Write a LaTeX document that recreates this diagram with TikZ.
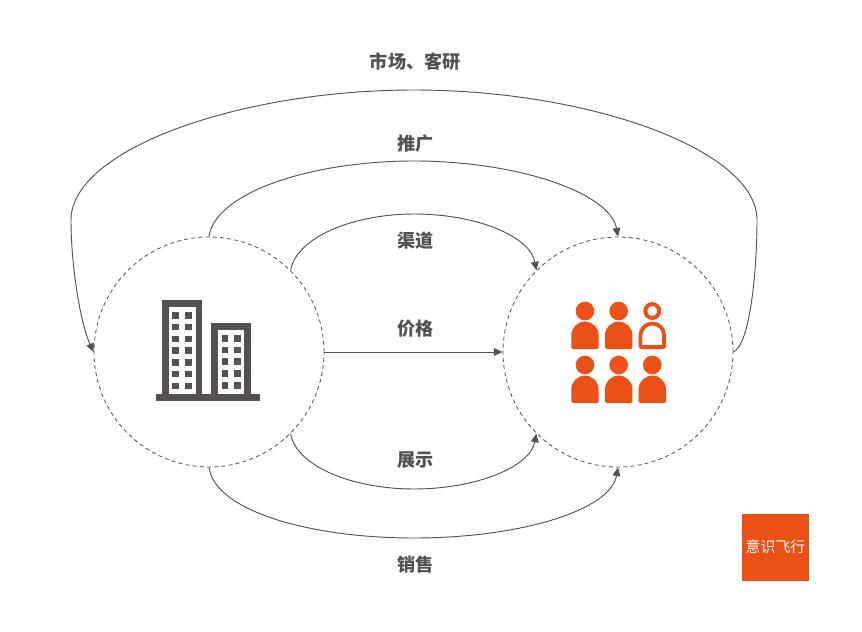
\documentclass[tikz,border=0pt]{standalone}
\usepackage{fontspec}
\setmainfont{Noto Sans CJK SC}
\usetikzlibrary{arrows.meta}
\definecolor{ink}{HTML}{555152}
\definecolor{brand}{HTML}{EB5017}
\tikzset{
  x=0.75pt,y=-0.75pt,
  ring/.style={circle,draw=ink,dashed,dash pattern=on 3pt off 2.4pt,line width=0.6pt,minimum size=172.5pt,inner sep=0pt},
  link/.style={draw=ink,line width=0.7pt,-{Triangle[length=6.5pt,width=5.8pt]}},
  plain/.style={draw=ink,line width=0.7pt},
  tag/.style={font=\fontsize{13.6pt}{16pt}\selectfont\bfseries,text=ink,inner sep=0pt},
  solidman/.pic={
    \fill[brand] (0,-38) circle[radius=7pt];
    \fill[brand] (-13.7,-1.5) -- (-13.7,-13.7) .. controls (-13.7,-21.3) and (-7.6,-27.4) .. (0,-27.4)
      .. controls (7.6,-27.4) and (13.7,-21.3) .. (13.7,-13.7) -- (13.7,-1.5)
      .. controls (13.7,-0.5) and (13.2,0) .. (12.2,0) -- (-12.2,0) .. controls (-13.2,0) and (-13.7,-0.5) .. (-13.7,-1.5) -- cycle;
  },
  hollowman/.pic={
    \draw[brand,line width=3pt] (0,-38) circle[radius=5.2pt];
    \draw[brand,line width=2.9pt,line join=round] (-11.8,-1.9) -- (-11.8,-13.7) .. controls (-11.8,-20.2) and (-6.5,-25.5) .. (0,-25.5)
      .. controls (6.5,-25.5) and (11.8,-20.2) .. (11.8,-13.7) -- (11.8,-1.9) -- cycle;
  }
}
\begin{document}
\begin{tikzpicture}
\useasboundingbox (0,0) rectangle (862,631);
\fill[white] (0,0) rectangle (862,631);

\node[ring] (L) at (209,352) {};
\node[ring] (R) at (618,352) {};

\coordinate (outerR) at (757,220);
\coordinate (outerT) at (414,90);
\coordinate (outerL) at (71,220);
\coordinate (promoT) at (414,161);
\coordinate (chanT) at (414,214);
\coordinate (showB) at (414,489);
\coordinate (saleB) at (414,538);

\path[plain] (R.0) .. controls (750,345) and (757,270) .. (outerR)
  .. controls (757,150) and (590,90) .. (outerT)
  .. controls (238,90) and (71,150) .. (outerL);
\path[link] (outerL) .. controls (71,265) and (80,322) .. (L.180);

\path[plain] (L.90) .. controls (215,193) and (310,161) .. (promoT);
\path[link] (promoT) .. controls (518,161) and (610,193) .. (R.90);

\path[plain] (L.45) .. controls (296,238) and (352,214) .. (chanT);
\path[link] (chanT) .. controls (476,214) and (530,236) .. (R.135);

\path[link] (L.0) -- (R.180);

\path[plain] (L.-45) .. controls (296,466) and (352,489) .. (showB);
\path[link] (showB) .. controls (476,489) and (530,467) .. (R.-135);

\path[plain] (L.-90) .. controls (215,511) and (310,538) .. (saleB);
\path[link] (saleB) .. controls (518,538) and (610,511) .. (R.-90);

\node[tag] (t1) at (415.3,61.3) {市场、客研};
\node[tag] (t2) at (415.5,143.3) {推广};
\node[tag] (t3) at (415.5,240.3) {渠道};
\node[tag] (t4) at (415.5,328.3) {价格};
\node[tag] (t5) at (415.5,460.3) {展示};
\node[tag] (t6) at (415.5,564.3) {销售};

% building
\fill[ink] (156,394) rectangle (260,401);
\fill[ink] (162.3,300) rectangle (202.3,396);
\fill[white] (169,306.7) rectangle (195.7,394);
\fill[ink] (211,323) rectangle (251,396);
\fill[white] (218,330) rectangle (244.3,394);
\foreach \r in {0,...,6}{
  \foreach \c in {172.3,185.3}{
    \fill[ink] (\c,312+11.75*\r) rectangle +(6.7,6.7);
  }
}
\foreach \r in {0,...,4}{
  \foreach \c in {221.5,234.2}{
    \fill[ink] (\c,335+11.7*\r) rectangle +(6.5,6.7);
  }
}

% people
\pic at (585,349) {solidman};
\pic at (618.7,349) {solidman};
\pic at (652.3,349) {hollowman};
\pic at (585,403) {solidman};
\pic at (618.7,403) {solidman};
\pic at (652.3,403) {solidman};

% logo
\node[fill=brand,minimum size=50.25pt,inner sep=0pt] (logo) at (775.5,547.5) {};
\node[text=white,font=\fontsize{11.2pt}{13pt}\selectfont,inner sep=0pt] (logotext) at (775.5,547) {意识飞行};
\end{tikzpicture}
\end{document}
